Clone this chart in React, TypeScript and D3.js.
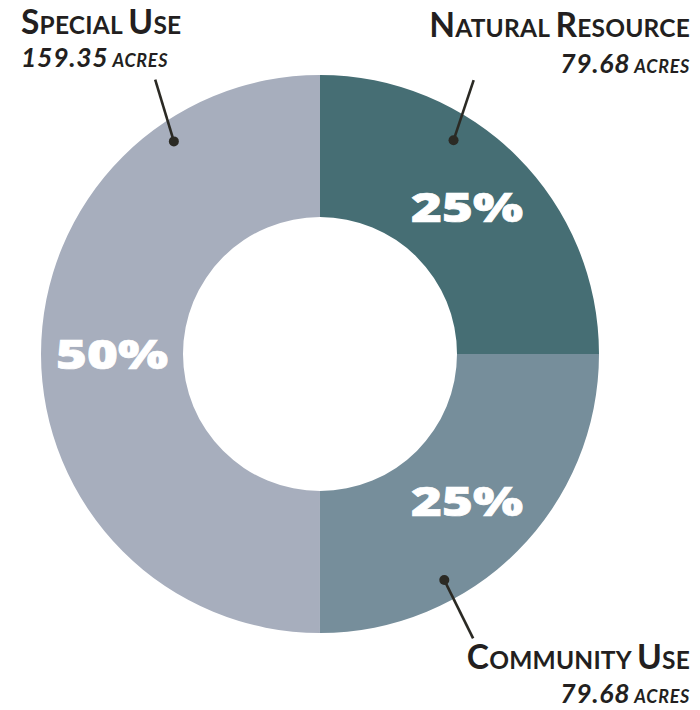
import * as d3 from "d3";
import React from "react";

// slices, clockwise from 12 o'clock
const categories = ["Natural Resource", "Community Use", "Special Use"];
const acres = [79.68, 79.68, 159.35];
const colors = ["#466e74", "#768e9b", "#a7aebd"];

// where each callout sits (layout only): dot angle/radius, line end angle/radius, text anchor
const callouts: Record<string, { a0: number; r0: number; a1: number; r1: number; x: number; y: number; y2: number; anchor: string }> = {
  "Natural Resource": { a0: 32, r0: 252, a1: 29.3, r1: 314, x: 690, y: 37, y2: 73, anchor: "end" },
  "Community Use": { a0: 151.2, r0: 258, a1: 151.7, r1: 323, x: 690, y: 669, y2: 703, anchor: "end" },
  "Special Use": { a0: -34.5, r0: 258, a1: -31, r1: 320, x: 21, y: 34, y2: 67, anchor: "start" },
};

const W = 700;
const H = 710;
const cx = 320;
const cy = 354;
const outerR = 279;
const innerR = 137;
const ink = "#231f20";
const labelFont = "Lato, 'Open Sans', sans-serif";

const SmallCaps = ({ text, big, small }: { text: string; big: number; small: number }) => (
  <>
    {text.split(" ").map((word, i) => (
      <React.Fragment key={i}>
        {i > 0 ? <tspan fontSize={small}> </tspan> : null}
        <tspan fontSize={big}>{word[0].toUpperCase()}</tspan>
        <tspan fontSize={small}>{word.slice(1).toUpperCase()}</tspan>
      </React.Fragment>
    ))}
  </>
);

export default function App() {
  const total = d3.sum(acres);
  const pie = d3.pie<number>().sort(null).value((d) => d);
  const arcs = pie(acres);
  const arc = d3.arc<d3.PieArcDatum<number>>().innerRadius(innerR).outerRadius(outerR);
  const rad = (deg: number) => (deg * Math.PI) / 180;

  return (
    <svg width={W} height={H} style={{ position: "absolute", left: 0, top: 0 }}>
      <g transform={`translate(${cx},${cy})`}>
        {arcs.map((a, i) => (
          <path key={categories[i]} d={arc(a) ?? ""} fill={colors[i]} />
        ))}
        {arcs.map((a, i) => {
          const [x, y] = arc.centroid(a);
          return (
            <text
              key={categories[i]}
              x={x}
              y={y}
              dy="0.36em"
              textAnchor="middle"
              fill="#fff"
              stroke="#fff"
              strokeWidth={0.7}
              fontFamily="'Open Sans', sans-serif"
              fontWeight={800}
              fontSize={41}
              textLength={112}
              lengthAdjust="spacingAndGlyphs"
            >
              {Math.round((acres[i] / total) * 100)}%
            </text>
          );
        })}
        {categories.map((c) => {
          const o = callouts[c];
          const x0 = o.r0 * Math.sin(rad(o.a0));
          const y0 = -o.r0 * Math.cos(rad(o.a0));
          const x1 = o.r1 * Math.sin(rad(o.a1));
          const y1 = -o.r1 * Math.cos(rad(o.a1));
          return (
            <g key={c}>
              <line x1={x0} y1={y0} x2={x1} y2={y1} stroke="#2b2a24" strokeWidth={2.6} />
              <circle cx={x0} cy={y0} r={5} fill="#2b2a24" />
            </g>
          );
        })}
      </g>
      {categories.map((c, i) => {
        const o = callouts[c];
        return (
          <g key={c} fill={ink} fontFamily={labelFont} fontWeight={700} textAnchor={o.anchor}>
            <text x={o.x} y={o.y} letterSpacing={0.2}>
              <SmallCaps text={c} big={33.5} small={24.5} />
            </text>
            <text x={o.x} y={o.y2} fontStyle="italic" letterSpacing={0.7}>
              <tspan fontSize={26.5}>{acres[i].toFixed(2)}</tspan>
              <tspan fontSize={18}> ACRES</tspan>
            </text>
          </g>
        );
      })}
    </svg>
  );
}
